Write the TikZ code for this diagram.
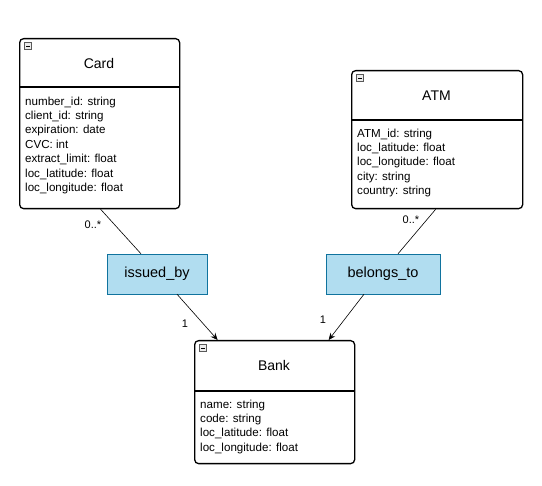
\documentclass[tikz,border=0pt]{standalone}
\usepackage{fontspec}
\setmainfont{Liberation Sans}
\usetikzlibrary{arrows.meta}

\definecolor{relfill}{HTML}{B1DDF0}
\definecolor{reldraw}{HTML}{10739E}

\tikzset{
  classbox/.style={draw, line width=1.3pt, rounded corners=4pt, inner sep=0pt, anchor=north west},
  classname/.style={font=\fontsize{14}{16}\selectfont},
  attrs/.style={font=\fontsize{11.6}{14.4}\selectfont, align=left, anchor=north west, inner sep=0pt},
  relbox/.style={draw=reldraw, fill=relfill, minimum height=40pt, inner sep=0pt, font=\fontsize{14.5}{16}\selectfont},
  minusbox/.style={draw=gray!70!black, fill=gray!15, minimum size=7pt, inner sep=0pt,
    path picture={\draw[black, line width=0.8pt] ([xshift=1.5pt]path picture bounding box.west) -- ([xshift=-1.5pt]path picture bounding box.east);}},
  mult/.style={font=\fontsize{11}{12}\selectfont, inner sep=0pt},
  assoc/.style={line width=0.6pt, -{Stealth[length=7pt,width=6pt]}}
}

\begin{document}
\begin{tikzpicture}[x=1pt,y=-1pt]
    \useasboundingbox (0,0) rectangle (542,486);
    % Klasa Card
    \node[classbox, minimum width=160pt, minimum height=170pt] (card) at (19,38) {};
    \node[minusbox] (cardmin) at (28,46) {};
    \node[classname] (cardname) at (99,63) {Card};
    \draw[line width=1.3pt] (19,87) -- (179,87);
    \node[attrs] (cardattr) at (25,96.5) {number\_id: string\\client\_id: string\\expiration: date\\CVC: int\\extract\_limit: float\\loc\_latitude: float\\loc\_longitude: float};
    % Klasa ATM
    \node[classbox, minimum width=171pt, minimum height=138pt] (atm) at (351,70) {};
    \node[minusbox] (atmmin) at (360,78) {};
    \node[classname] (atmname) at (436.5,96) {ATM};
    \draw[line width=1.3pt] (351,120) -- (522,120);
    \node[attrs] (atmattr) at (357,128.5) {ATM\_id: string\\loc\_latitude: float\\loc\_longitude: float\\city: string\\country: string};
    % Klasa Bank
    \node[classbox, minimum width=160pt, minimum height=123pt] (bank) at (194,340) {};
    \node[minusbox] (bankmin) at (203,348) {};
    \node[classname] (bankname) at (274,365) {Bank};
    \draw[line width=1.3pt] (194,391) -- (354,391);
    \node[attrs] (bankattr) at (200,399.5) {name: string\\code: string\\loc\_latitude: float\\loc\_longitude: float};
    % Asocjacje
    \node[relbox, minimum width=100pt] (issued) at (157,274) {issued\_by};
    \node[relbox, minimum width=114pt] (belongs) at (383,274) {belongs\_to};
    \draw[line width=0.6pt] ([xshift=1pt]card.south) -- ([xshift=-16pt]issued.north);
    \draw[assoc] ([xshift=20pt]issued.south) -- ([xshift=-57pt]bank.north);
    \draw[line width=0.6pt] ([xshift=-1.5pt]atm.south) -- ([xshift=15pt]belongs.north);
    \draw[assoc] ([xshift=-19pt]belongs.south) -- ([xshift=54pt]bank.north);
    % Krotnosci
    \node[mult] (m1) at (93,225) {0..*};
    \node[mult] (m2) at (185,324) {1};
    \node[mult] (m3) at (411,220) {0..*};
    \node[mult] (m4) at (323,320) {1};
\end{tikzpicture}
\end{document}
